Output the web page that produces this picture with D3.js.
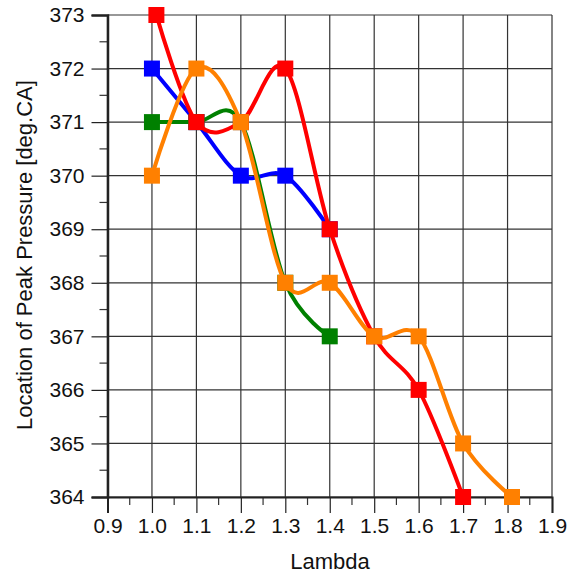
<!DOCTYPE html>
<html>
<head>
<meta charset="utf-8">
<script src="https://cdn.jsdelivr.net/npm/d3@7/dist/d3.min.js"></script>
<style>
  html, body { margin: 0; padding: 0; background: #fff; }
  svg { display: block; font-family: "Liberation Sans", Arial, sans-serif; }
</style>
</head>
<body>
<svg id="chart" width="571" height="573"></svg>
<script>
// Lambda sweep: location of peak pressure for four runs
const blueLambda   = [1.0, 1.1, 1.2, 1.3, 1.4];
const blueLPP      = [372, 371, 370, 370, 369];
const greenLambda  = [1.0, 1.1, 1.2, 1.3, 1.4];
const greenLPP     = [371, 371, 371, 368, 367];
const redLambda    = [1.01, 1.1, 1.2, 1.3, 1.4, 1.5, 1.6, 1.7];
const redLPP       = [373, 371, 371, 372, 369, 367, 366, 364];
const orangeLambda = [1.0, 1.1, 1.2, 1.3, 1.4, 1.5, 1.6, 1.7, 1.81];
const orangeLPP    = [370, 372, 371, 368, 368, 367, 367, 365, 364];

const xTicks = [0.9, 1.0, 1.1, 1.2, 1.3, 1.4, 1.5, 1.6, 1.7, 1.8, 1.9];
const yTicks = [364, 365, 366, 367, 368, 369, 370, 371, 372, 373];

const series = [
  { color: "#0000ff", xs: blueLambda,   ys: blueLPP },
  { color: "#008000", xs: greenLambda,  ys: greenLPP },
  { color: "#ff0000", xs: redLambda,    ys: redLPP },
  { color: "#ff8000", xs: orangeLambda, ys: orangeLPP }
];

const plotL = 107.5, plotR = 552, plotT = 15, plotB = 497;
const svg = d3.select("#chart");

const x = d3.scaleLinear().domain([0.9, 1.9]).range([plotL, plotR]);
const y = d3.scaleLinear().domain([364, 373]).range([plotB, plotT]);

// grid
const grid = svg.append("g").attr("stroke", "#333").attr("stroke-width", 1.2);
grid.selectAll("line.v").data(xTicks).join("line")
  .attr("x1", d => x(d)).attr("x2", d => x(d))
  .attr("y1", plotT).attr("y2", plotB);
grid.selectAll("line.h").data(yTicks).join("line")
  .attr("x1", plotL).attr("x2", plotR)
  .attr("y1", d => y(d)).attr("y2", d => y(d));

// minor ticks
const xMinor = d3.range(0.95, 1.9, 0.1);
const yMinor = d3.range(364.5, 373, 1);
const ticks = svg.append("g").attr("stroke", "#333").attr("stroke-width", 1.2);
ticks.selectAll("line.xm").data(xMinor).join("line")
  .attr("x1", d => x(d)).attr("x2", d => x(d))
  .attr("y1", plotB).attr("y2", plotB + 8);
ticks.selectAll("line.ym").data(yMinor).join("line")
  .attr("x1", plotL - 8).attr("x2", plotL)
  .attr("y1", d => y(d)).attr("y2", d => y(d));

// axes with major ticks extending outward
const xAxis = d3.axisBottom(x).tickValues(xTicks).tickFormat(d3.format(".1f")).tickSize(16).tickPadding(5);
const yAxis = d3.axisLeft(y).tickValues(yTicks).tickFormat(d3.format("d")).tickSize(16).tickPadding(7);

const gx = svg.append("g").attr("transform", `translate(0,${plotB})`).call(xAxis);
const gy = svg.append("g").attr("transform", `translate(${plotL},0)`).call(yAxis);
[gx, gy].forEach(g => {
  g.select(".domain").attr("stroke", "#222").attr("stroke-width", 2);
  g.selectAll(".tick line").attr("stroke", "#222").attr("stroke-width", 1.2);
  g.selectAll(".tick text").attr("fill", "#111").style("font-size", "21px")
    .style("font-family", "'Liberation Sans', Arial, sans-serif");
});
gy.select(".domain").attr("stroke-width", 2.5);

// axis titles
svg.append("text")
  .attr("x", 330).attr("y", 569)
  .attr("text-anchor", "middle").attr("fill", "#111")
  .style("font-size", "22px").text("Lambda");
svg.append("text")
  .attr("transform", `translate(32,255) rotate(-90)`)
  .attr("text-anchor", "middle").attr("fill", "#111")
  .style("font-size", "22px").text("Location of Peak Pressure [deg.CA]");

// smoothed lines with square markers
const line = d3.line()
  .x(d => x(d[0])).y(d => y(d[1]))
  .curve(d3.curveCardinal.tension(0));

const msize = 16;
series.forEach(s => {
  const pts = s.xs.map((v, i) => [v, s.ys[i]]);
  svg.append("path").datum(pts)
    .attr("d", line)
    .attr("fill", "none")
    .attr("stroke", s.color)
    .attr("stroke-width", 4)
    .attr("stroke-linejoin", "round");
  svg.append("g").selectAll("rect").data(pts).join("rect")
    .attr("x", d => x(d[0]) - msize / 2)
    .attr("y", d => y(d[1]) - msize / 2)
    .attr("width", msize).attr("height", msize)
    .attr("fill", s.color);
});
</script>
</body>
</html>
